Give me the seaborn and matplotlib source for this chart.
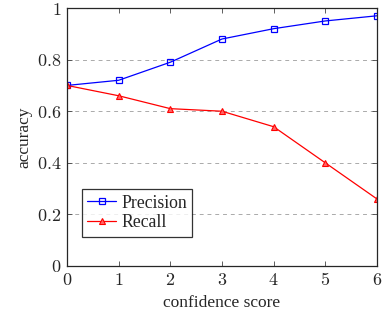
import numpy as np
import pandas as pd
import seaborn as sns
from matplotlib import pyplot as plt
from matplotlib.ticker import FixedLocator

score = [0, 1, 2, 3, 4, 5, 6]
precision = [0.70, 0.72, 0.79, 0.88, 0.92, 0.95, 0.97]
recall = [0.70, 0.66, 0.61, 0.60, 0.54, 0.40, 0.26]
xticks = [0, 1, 2, 3, 4, 5, 6]
yticks = [0, 0.2, 0.4, 0.6, 0.8, 1]

sns.set_style('ticks')
plt.rcParams['font.family'] = ['Liberation Serif', 'DejaVu Serif']
plt.rcParams['mathtext.fontset'] = 'cm'

fig = plt.figure(figsize=(3.85, 3.10), dpi=100)
ax = fig.add_axes([0.174, 0.142, 0.805, 0.832])

sns.lineplot(x=score, y=precision, ax=ax, color='blue', lw=0.9,
             marker='s', markersize=5, markerfacecolor='none',
             markeredgecolor='blue', markeredgewidth=0.9, label='Precision')
sns.lineplot(x=score, y=recall, ax=ax, color='red', lw=0.9,
             marker='^', markersize=4.5, markerfacecolor='#ff6666',
             markeredgecolor='red', markeredgewidth=0.8, label='Recall')

ax.set_xlim(0, 6)
ax.set_ylim(0, 1)
ax.xaxis.set_major_locator(FixedLocator(xticks))
ax.yaxis.set_major_locator(FixedLocator(yticks))
ax.set_xticklabels(['$%g$' % t for t in xticks], fontsize=13)
ax.set_yticklabels(['$%g$' % t for t in yticks], fontsize=13)
ax.tick_params(direction='in', length=3.5, width=0.6, color='#444444',
               top=True, right=True, pad=4)
for s in ax.spines.values():
    s.set_linewidth(0.9)
    s.set_visible(True)
ax.grid(axis='y', ls=(0, (4, 4)), color='#aaaaaa', lw=0.7)

ax.set_xlabel('confidence score', fontsize=12.5, labelpad=5)
ax.set_ylabel('accuracy', fontsize=12.5, labelpad=3)

leg = ax.legend(loc='lower left', bbox_to_anchor=(0.02, 0.079), fontsize=12.8,
                frameon=True, fancybox=False, edgecolor='black',
                handlelength=1.6, handletextpad=0.3, borderpad=0.3,
                labelspacing=0.15)
leg.get_frame().set_linewidth(0.9)

fig.savefig('out.png', dpi=100)
